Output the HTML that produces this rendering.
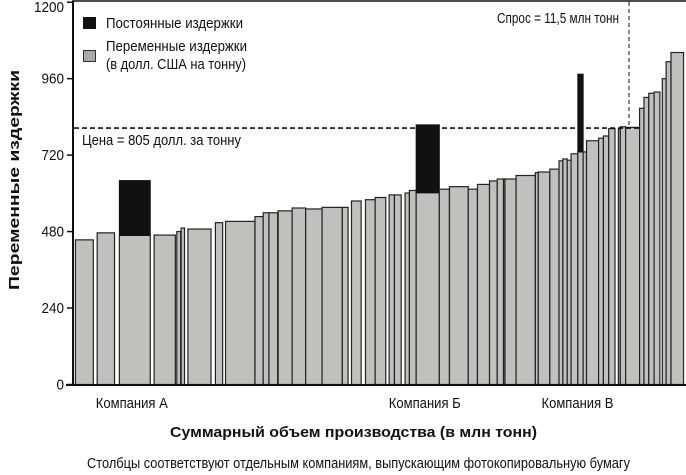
<!DOCTYPE html>
<html><head><meta charset="utf-8"><style>
html,body{margin:0;padding:0;background:#fff;}
svg{display:block;font-family:"Liberation Sans Narrow","Liberation Sans",sans-serif;}
</style></head><body>
<svg id="chart" width="686" height="475" viewBox="0 0 686 475" xmlns="http://www.w3.org/2000/svg">
<g id="bars"></g>
<g id="axes"></g>
</svg>
<script>
const barStart = [0.03,0.48,0.94,1.66,2.13,2.22,2.36,2.93,3.14,3.75,3.92,4.04,4.23,4.52,4.80,5.14,5.56,5.75,6.04,6.24,6.53,6.64,6.86,6.95,7.09,7.57,7.78,8.17,8.36,8.61,8.77,8.90,8.93,9.16,9.56,9.62,9.86,10.05,10.13,10.22,10.30,10.44,10.55,10.62,10.87,10.97,11.08,11.28,11.32,11.43,11.72,11.81,11.91,12.02,12.19,12.27,12.37];
const barEnd = [0.40,0.84,1.58,2.10,2.21,2.29,2.84,3.08,3.75,3.92,4.04,4.22,4.52,4.80,5.14,5.56,5.68,5.95,6.24,6.46,6.64,6.78,6.95,7.09,7.57,7.78,8.17,8.36,8.61,8.77,8.90,8.93,9.16,9.56,9.62,9.86,10.05,10.13,10.22,10.30,10.44,10.55,10.62,10.87,10.97,11.08,11.21,11.32,11.43,11.72,11.81,11.91,12.02,12.14,12.27,12.37,12.63];
const variableCost = [454,476,468,469,480,491,488,508,512,527,539,539,545,554,551,556,556,576,580,587,595,595,601,609,602,613,621,613,628,639,645,645,645,656,665,667,676,702,708,704,724,730,730,765,773,780,803,802,809,807,867,901,914,918,960,1013,1042];
const fixedCost = [0,0,172,0,0,0,0,0,0,0,0,0,0,0,0,0,0,0,0,0,0,0,0,0,213,0,0,0,0,0,0,0,0,0,0,0,0,0,0,0,0,244,0,0,0,0,0,0,0,0,0,0,0,0,0,0,0];
const yTicks = [0,240,480,720,960,1200];
const price = 805;
const demand = 11.5;
const companyLabels = ["Компания А","Компания Б","Компания В"];
const companyIndex = [2,24,41];

const NS="http://www.w3.org/2000/svg";
const x0=74, pxPerUnit=48.26, y0=384.5, pxPerCost=0.3186;
function xs(v){return x0+v*pxPerUnit;}
function ys(c){return y0-c*pxPerCost;}
function mk(tag,attrs,parent,text){const e=document.createElementNS(NS,tag);for(const k in attrs)e.setAttribute(k,attrs[k]);if(text!==undefined)e.textContent=text;parent.appendChild(e);return e;}
const svg=document.getElementById('chart');
const gb=document.getElementById('bars');
const ga=document.getElementById('axes');

for(let i=0;i<barStart.length;i++){
  const xa=xs(barStart[i]), xb=xs(barEnd[i]);
  const r=mk('rect',{x:xa,y:ys(variableCost[i]),width:xb-xa,height:ys(0)-ys(variableCost[i]),fill:'#c0c1bd',stroke:'#222','stroke-width':1.2},gb);
  
  
  if(fixedCost[i]>0){
    const top=variableCost[i]+fixedCost[i];
    const f=mk('rect',{x:xa,y:ys(top),width:xb-xa,height:ys(variableCost[i])-ys(top),fill:'#111',stroke:'#111','stroke-width':1},gb);
    
    
  }
}
const pl=mk('line',{x1:74,x2:640,y1:ys(price),y2:ys(price),stroke:'#111','stroke-width':1.6,'stroke-dasharray':'5,3'},ga);


const dl=mk('line',{x1:xs(demand),x2:xs(demand),y1:2,y2:ys(price),stroke:'#111','stroke-width':1,'stroke-dasharray':'4,3'},ga);


const yax=mk('line',{x1:73,x2:73,y1:1,y2:385.5,stroke:'#111','stroke-width':2},ga);


const xax=mk('line',{x1:66,x2:686,y1:385,y2:385,stroke:'#111','stroke-width':2},ga);


const topl=mk('line',{x1:72,x2:686,y1:1,y2:1,stroke:'#111','stroke-width':1.5},ga);


yTicks.forEach(t=>{
  const yy=Math.max(ys(t),2);
  const tk=mk('line',{x1:67,x2:73,y1:yy,y2:yy,stroke:'#111','stroke-width':1.5},ga);
  
  
  const s=String(t);
  const tl=mk('text',{x:64,y:yy+5+(t===1200?5:0),'text-anchor':'end','font-size':15,fill:'#111',textLength:s.length*7.5,lengthAdjust:'spacingAndGlyphs'},ga,s);
  
  
});
companyIndex.forEach((idx,k)=>{
  const cx=(xs(barStart[idx])+xs(barEnd[idx]))/2;
  const t=mk('text',{x:cx-3,y:408,'text-anchor':'middle','font-size':15,fill:'#111',textLength:72,lengthAdjust:'spacingAndGlyphs'},ga,companyLabels[k]);
  
  
});
function txt(name,attrs,s){const t=mk('text',Object.assign({fill:'#111','font-size':15,lengthAdjust:'spacingAndGlyphs'},attrs),svg,s);return t;}
txt('x-axis-title',{x:170,y:437,'font-weight':'bold',textLength:367},'Суммарный объем производства (в млн тонн)');
txt('caption',{x:87,y:468,textLength:543},'Столбцы соответствуют отдельным компаниям, выпускающим фотокопировальную бумагу');
txt('y-axis-title',{x:-290,y:19,transform:'rotate(-90)','font-weight':'bold',textLength:220},'Переменные издержки');
txt('price-label',{x:82,y:145,textLength:159},'Цена = 805 долл. за тонну');
txt('demand-label',{x:497,y:23,textLength:122},'Спрос = 11,5 млн тонн');
const l1=mk('rect',{x:83,y:17,width:13,height:12,fill:'#111'},svg);


const l2=mk('rect',{x:83.5,y:50.5,width:12,height:11,fill:'#a9aaa6',stroke:'#333','stroke-width':1},svg);


txt('legend-fixed-label',{x:106,y:28,textLength:137},'Постоянные издержки');
txt('legend-variable-label',{x:106,y:51,textLength:141},'Переменные издержки');
txt('legend-variable-unit',{x:106,y:69,textLength:140},'(в долл. США на тонну)');
</script>
</body></html>
